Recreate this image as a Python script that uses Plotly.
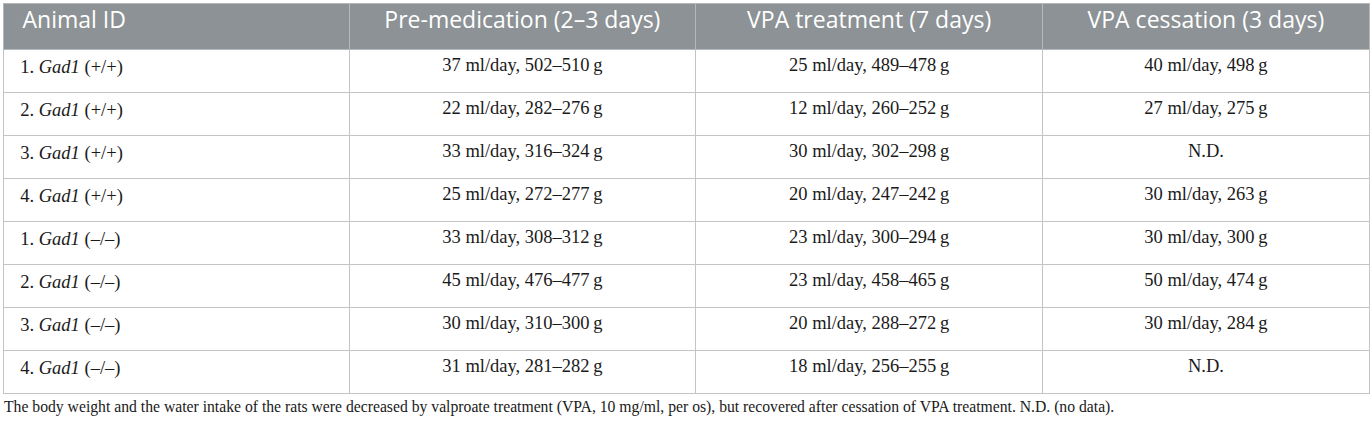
import plotly.graph_objects as go

W, H = 1372, 425

headers = ["Animal ID", "Pre-medication (2–3 days)", "VPA treatment (7 days)", "VPA cessation (3 days)"]

animal_ids = [
    "1. <i>Gad1</i> (+/+)",
    "2. <i>Gad1</i> (+/+)",
    "3. <i>Gad1</i> (+/+)",
    "4. <i>Gad1</i> (+/+)",
    "1. <i>Gad1</i> (–/–)",
    "2. <i>Gad1</i> (–/–)",
    "3. <i>Gad1</i> (–/–)",
    "4. <i>Gad1</i> (–/–)",
]
pre_medication = [
    "37 ml/day, 502–510\u2009g",
    "22 ml/day, 282–276\u2009g",
    "33 ml/day, 316–324\u2009g",
    "25 ml/day, 272–277\u2009g",
    "33 ml/day, 308–312\u2009g",
    "45 ml/day, 476–477\u2009g",
    "30 ml/day, 310–300\u2009g",
    "31 ml/day, 281–282\u2009g",
]
vpa_treatment = [
    "25 ml/day, 489–478\u2009g",
    "12 ml/day, 260–252\u2009g",
    "30 ml/day, 302–298\u2009g",
    "20 ml/day, 247–242\u2009g",
    "23 ml/day, 300–294\u2009g",
    "23 ml/day, 458–465\u2009g",
    "20 ml/day, 288–272\u2009g",
    "18 ml/day, 256–255\u2009g",
]
vpa_cessation = [
    "40 ml/day, 498\u2009g",
    "27 ml/day, 275\u2009g",
    "N.D.",
    "30 ml/day, 263\u2009g",
    "30 ml/day, 300\u2009g",
    "50 ml/day, 474\u2009g",
    "30 ml/day, 284\u2009g",
    "N.D.",
]

footnote = ("The body weight and the water intake of the rats were decreased by valproate treatment "
            "(VPA, 10 mg/ml, per os), but recovered after cessation of VPA treatment. N.D. (no data).")

# a little extra left indent for the first column
indent = "\u2002"
header_vals = [indent + headers[0]] + headers[1:]
id_vals = [indent + s for s in animal_ids]

fig = go.Figure(
    go.Table(
        domain=dict(x=[3 / W, 1369 / W], y=[0.05, 1 - 3 / H]),
        columnwidth=[346, 346, 347, 326],
        header=dict(
            values=header_vals,
            fill_color="#8c9295",
            line=dict(color="#b4b8ba", width=1),
            font=dict(family="Open Sans", size=23, color="white"),
            align=["left", "center", "center", "center"],
            height=46,
        ),
        cells=dict(
            values=[id_vals, pre_medication, vpa_treatment, vpa_cessation],
            fill_color="white",
            line=dict(color="#c4c4c4", width=1),
            font=dict(family="Liberation Serif", size=18.5, color="#1a1a1a"),
            align=["left", "center", "center", "center"],
            height=43,
        ),
    )
)

fig.add_annotation(
    text=footnote, x=2 / W, y=1 - 407 / H, xref="paper", yref="paper",
    xanchor="left", yanchor="middle", showarrow=False,
    font=dict(family="Liberation Serif", size=15.7, color="#1a1a1a"),
)

fig.update_layout(
    width=W, height=H,
    margin=dict(l=0, r=0, t=0, b=0),
    paper_bgcolor="white",
)

fig.write_html("out.html", config={"displayModeBar": False},
               post_script="document.body.style.margin='0px';")
